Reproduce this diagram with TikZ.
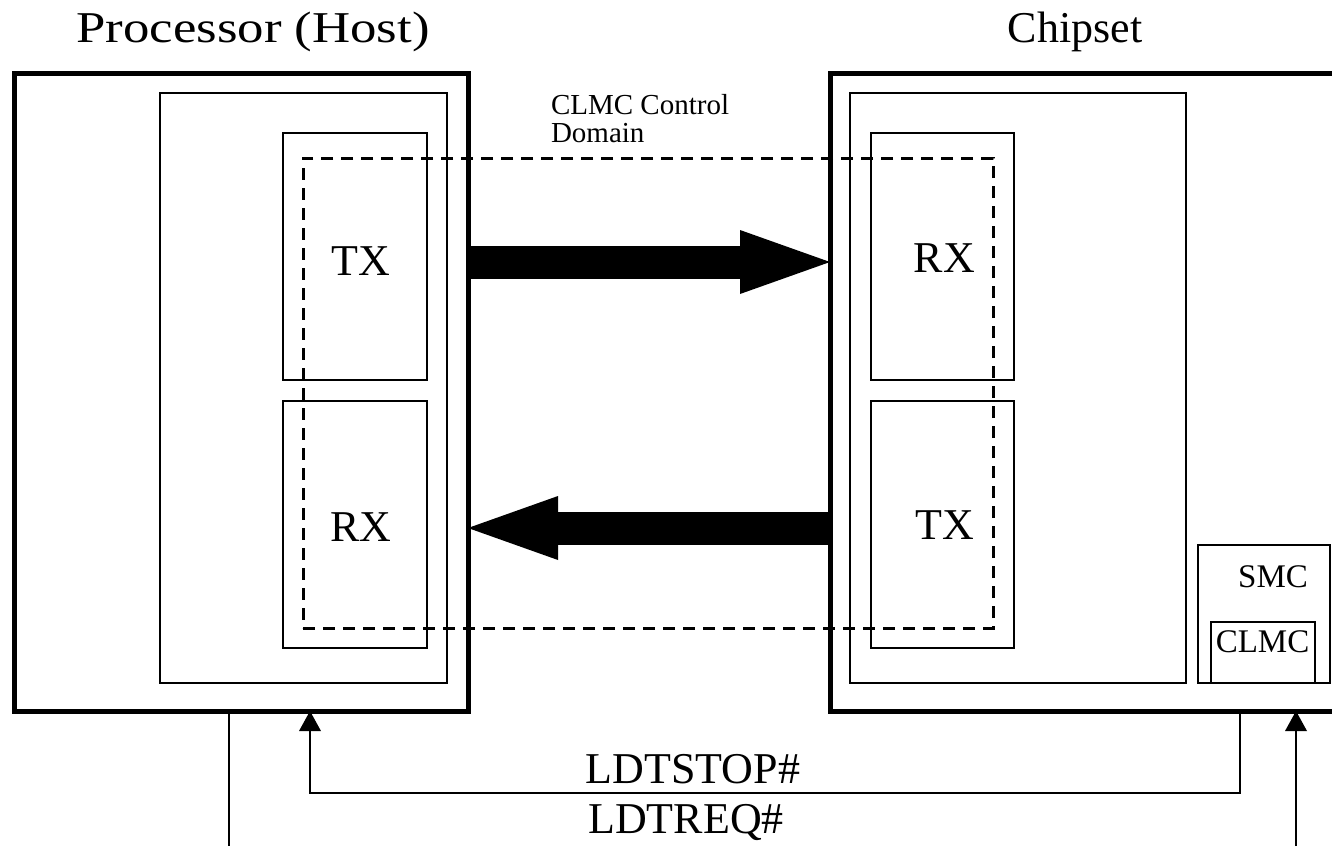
\documentclass[tikz,border=0pt]{standalone}
\usepackage{fontspec}
\setmainfont{Liberation Serif}
\usetikzlibrary{arrows.meta}

\begin{document}
\begin{tikzpicture}[x=0.5pt, y=-0.5pt,
    every node/.style={inner sep=0pt, outer sep=0pt},
    chipbox/.style={draw, line width=2.5pt},
    blockbox/.style={draw, line width=1.3pt},
    domainbox/.style={draw, line width=1.5pt, dash pattern=on 6pt off 4pt},
    bigarrow/.style={line width=16.5pt, -{Triangle[length=45pt, width=32pt, line width=0pt]}},
    sigline/.style={line width=1.2pt, -{Triangle[length=10pt, width=11pt, line width=0pt]}},
    title/.style={font=\fontsize{22}{26}\selectfont},
    lbl/.style={font=\fontsize{22}{26}\selectfont},
    small/.style={font=\fontsize{14.5}{14}\selectfont},
    tag/.style={font=\fontsize{16.5}{18}\selectfont}]
    \useasboundingbox (0,0) rectangle (1332,846);
    \clip (0,0) rectangle (1332,846);

    % processor side
    \node[title, anchor=base] at (253,42) {\scalebox{1.2}[1]{Processor (Host)}};
    \node[chipbox, minimum width=227pt, minimum height=319pt] (host) at (241,392) {};
    \node[blockbox, minimum width=143.5pt, minimum height=295pt] (hostcore) at (303.5,388) {};
    \node[blockbox, minimum width=72pt, minimum height=123.5pt,
          label={[lbl, xshift=3pt, yshift=-2.5pt]center:TX}] (hosttx) at (355,256.5) {};
    \node[blockbox, minimum width=72pt, minimum height=123.5pt,
          label={[lbl, xshift=3pt, yshift=-1.5pt]center:RX}] (hostrx) at (355,524.5) {};

    % chipset side
    \node[title, anchor=base] at (1075,42) {Chipset};
    \node[chipbox, minimum width=257.5pt, minimum height=319pt] (chip) at (1087.5,392) {};
    \node[blockbox, minimum width=168pt, minimum height=295pt] (chipcore) at (1018,388) {};
    \node[blockbox, minimum width=71.5pt, minimum height=123.5pt,
          label={[lbl, xshift=1pt, yshift=-1pt]center:RX}] (chiprx) at (942.5,256.5) {};
    \node[blockbox, minimum width=71.5pt, minimum height=123.5pt,
          label={[lbl, xshift=1pt, yshift=-0.5pt]center:TX}] (chiptx) at (942.5,524.5) {};
    \node[blockbox, minimum width=66pt, minimum height=69pt] (smc) at (1264,614) {};
    \node[tag, anchor=base] at (1273,587) {SMC};
    \node[blockbox, minimum width=52pt, minimum height=30.5pt] (clmc) at (1263,652.5) {};
    \node[tag, anchor=base] at (1262.5,652) {CLMC};

    % control domain
    \node[domainbox, minimum width=345pt, minimum height=235pt] (domain) at (648,393) {};
    \node[small, align=left, anchor=north west] at (551,94) {CLMC Control\\Domain};

    % link lanes
    \coordinate (fwdlane) at (0,262);
    \coordinate (backlane) at (0,528);
    \draw[bigarrow] (host.east |- fwdlane) -- (chip.west |- fwdlane);
    \draw[bigarrow] (chip.west |- backlane) -- (host.east |- backlane);

    % sideband signals
    \coordinate (stopx) at (1240,0);
    \coordinate (stopbend) at (310,793);
    \coordinate (reqin) at (1296,846);
    \coordinate (hostout) at (229,846);
    \draw[line width=1.2pt] (host.south -| hostout) -- (hostout);
    \draw[sigline] (chip.south -| stopx) |- (stopbend) -- (host.south -| stopbend);
    \draw[sigline] (reqin) -- (chip.south -| reqin);
    \node[lbl, anchor=base] at (693,783) {LDTSTOP\#};
    \node[lbl, anchor=base] at (686,833) {LDTREQ\#};
\end{tikzpicture}
\end{document}
